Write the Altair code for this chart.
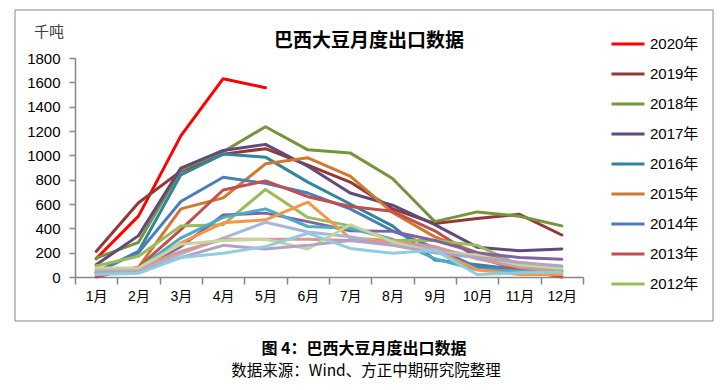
import altair as alt
import pandas as pd

months = ["1月", "2月", "3月", "4月", "5月", "6月", "7月", "8月", "9月", "10月", "11月", "12月"]
years = ["2020年", "2019年", "2018年", "2017年", "2016年", "2015年", "2014年", "2013年", "2012年",
         "2011年", "2010年", "2009年", "2008年", "2007年", "2006年", "2005年", "2004年"]
legend_years = years[:9]

v2020 = [150, 500, 1160, 1630, 1555]
v2019 = [210, 610, 870, 1010, 1055, 920, 780, 560, 440, 480, 515, 345]
v2018 = [155, 285, 880, 1030, 1235, 1045, 1020, 810, 455, 535, 500, 420]
v2017 = [100, 340, 895, 1040, 1090, 910, 690, 590, 430, 245, 215, 230]
v2016 = [40, 210, 840, 1010, 985, 780, 600, 420, 140, 100, 60, 45]
v2015 = [20, 80, 560, 650, 930, 980, 830, 530, 330, 200, 110, 40]
v2014 = [40, 200, 620, 820, 770, 690, 560, 380, 240, 80, 70, 50]
v2013 = [0, 80, 390, 715, 790, 660, 580, 540, 380, 160, 60, 0]
v2012 = [90, 170, 420, 430, 720, 490, 420, 300, 300, 260, 100, 60]
v2011 = [30, 60, 250, 510, 525, 455, 380, 375, 300, 200, 160, 145]
v2010 = [30, 70, 320, 490, 560, 415, 400, 310, 150, 60, 50, 40]
v2009 = [60, 60, 280, 445, 470, 615, 320, 300, 220, 60, 20, 20]
v2008 = [50, 50, 190, 320, 450, 370, 330, 270, 230, 170, 120, 80]
v2007 = [70, 70, 210, 310, 310, 310, 300, 290, 250, 150, 80, 40]
v2006 = [75, 75, 270, 300, 310, 230, 430, 290, 200, 180, 100, 70]
v2005 = [40, 40, 160, 260, 230, 260, 300, 260, 200, 160, 120, 90]
v2004 = [20, 30, 160, 195, 250, 360, 235, 195, 220, 20, 35, 40]

series_values = [v2020, v2019, v2018, v2017, v2016, v2015, v2014, v2013, v2012,
                 v2011, v2010, v2009, v2008, v2007, v2006, v2005, v2004]

colors = ["#FF0000", "#953735", "#77933C", "#604A7B", "#31859C", "#D2782E", "#4A7EBB",
          "#C0504D", "#9BBB59", "#8064A2", "#4BACC6", "#F79646", "#A5B8DB", "#D99694",
          "#C3D69B", "#B3A2C7", "#93CDDD"]

title_text = ["巴西大豆月度出口数据"]
unit_text = ["千吨"]
caption_text = ["图 4：巴西大豆月度出口数据"]
source_text = ["数据来源：Wind、方正中期研究院整理"]

rows = []
for yr, vals in zip(years, series_values):
    for m, v in zip(months, vals):
        rows.append({"年份": yr, "月份": m, "出口": v})
df = pd.DataFrame(rows)

FONT = "Liberation Sans, Noto Sans CJK SC, sans-serif"
CJK = "Noto Sans CJK SC, sans-serif"
GREY = "#868686"

lines = alt.Chart(df).mark_line(strokeWidth=3, strokeJoin="round", strokeCap="round").encode(
    x=alt.X("月份:N", sort=months, bandPosition=0.5,
            scale=alt.Scale(type="band", paddingInner=0, paddingOuter=0),
            axis=alt.Axis(title=None, labelAngle=0, tickBand="extent", tickSize=7, labelPadding=5,
                          domainColor=GREY, tickColor=GREY, domainWidth=1.5, tickWidth=1.5,
                          labelFontSize=14, labelColor="#000000", labelFont=FONT, grid=False)),
    y=alt.Y("出口:Q", scale=alt.Scale(domain=[0, 1800], nice=False),
            axis=alt.Axis(title=None, values=list(range(0, 1801, 200)), format="d",
                          tickSize=6, labelPadding=9,
                          domainColor=GREY, tickColor=GREY, domainWidth=1.5, tickWidth=1.5,
                          labelFontSize=15, labelColor="#000000", labelFont=FONT, grid=False)),
    color=alt.Color("年份:N", sort=years, scale=alt.Scale(domain=years, range=colors),
                    legend=alt.Legend(values=legend_years, title=None, orient="none",
                                      legendX=535, legendY=-29, symbolType="stroke",
                                      symbolSize=1089, symbolStrokeWidth=3, labelFontSize=15,
                                      labelFont=FONT, labelColor="#000000", clipHeight=30,
                                      rowPadding=0, padding=0, labelOffset=4)),
)

one = pd.DataFrame({"t": [0]})

frame = alt.Chart(one).mark_rect(fill=None, stroke=GREY, strokeWidth=1).encode(
    x=alt.value(-60), x2=alt.value(638), y=alt.value(-48), y2=alt.value(263))

title = alt.Chart(pd.DataFrame({"t": title_text})).mark_text(
    font=CJK, fontSize=19, fontWeight="bold", color="#000000", align="center", baseline="middle"
).encode(text="t:N", x=alt.value(294), y=alt.value(-17))

unit = alt.Chart(pd.DataFrame({"t": unit_text})).mark_text(
    font=CJK, fontSize=15, color="#404040", align="center", baseline="middle"
).encode(text="t:N", x=alt.value(-26), y=alt.value(-26))

caption = alt.Chart(pd.DataFrame({"t": caption_text})).mark_text(
    font=CJK, fontSize=16, fontWeight="bold", color="#000000", align="center", baseline="middle"
).encode(text="t:N", x=alt.value(289), y=alt.value(291))

source = alt.Chart(pd.DataFrame({"t": source_text})).mark_text(
    font=CJK, fontSize=15.5, color="#000000", align="center", baseline="middle"
).encode(text="t:N", x=alt.value(291), y=alt.value(313))

chart = alt.layer(frame, lines, title, unit, caption, source).properties(
    width=508, height=219,
    autosize=alt.AutoSizeParams(type="none"),
    padding={"left": 67, "top": 50, "right": 136, "bottom": 105},
).configure_view(stroke=None)

chart.save("out.html", embed_options={"renderer": "svg", "actions": False})
